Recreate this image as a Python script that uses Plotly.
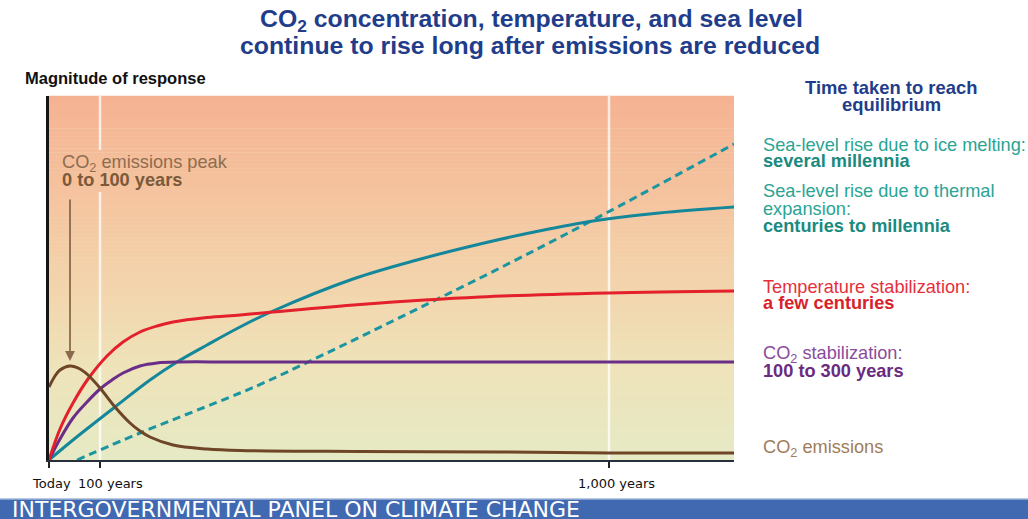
import plotly.graph_objects as go

# Schematic time axis: positions along the horizontal scale
x_ticks = [0, 51, 560]
x_tick_labels = ["Today", "100 years", "1,000 years"]

# CO2 emissions: peak then decline
emis_x = [0, 6, 11, 21, 31, 39, 51, 66, 81, 91, 101, 124, 158, 191, 311, 451, 560, 685]
emis_y = [73, 84, 90, 94, 91, 85, 72, 53, 37, 29, 23, 15, 11, 9.5, 8.5, 8, 7, 7]

# Temperature stabilization
temp_x = [0, 11, 24, 39, 58, 74, 91, 108, 124, 158, 191, 224, 311, 431, 560, 685]
temp_y = [0, 31, 57, 81, 104, 118, 128, 134, 138, 142.5, 145, 148, 155.5, 163, 167, 169]

# CO2 stabilization
co2_x = [0, 11, 24, 38, 51, 63, 74, 91, 108, 130, 191, 685]
co2_y = [0, 21, 42, 58, 71, 80, 87, 94, 97, 98, 98, 98]

# Sea-level rise due to thermal expansion
therm_x = [0, 24, 66, 101, 128, 158, 191, 224, 304, 368, 431, 490, 544, 610, 685]
therm_y = [0, 20, 53, 80, 98, 115, 133, 149, 181, 200, 216, 229, 239, 247, 253]

# Sea-level rise due to ice melting
ice_x = [28, 91, 191, 221, 431, 544, 685]
ice_y = [0, 27, 67, 80, 182, 240, 316]

W, H = 1028, 519
L, R, T, B = 49, 294, 96, 59
PW, PH = W - L - R, H - T - B


def px(x):
    return (x - L) / PW


def py(y):
    return (H - B - y) / PH


FONT = "Liberation Sans, Arial, sans-serif"
TICKFONT = "DejaVu Sans, Verdana, sans-serif"

fig = go.Figure()


def line(x, y, color, dash="solid"):
    fig.add_trace(go.Scatter(
        x=x, y=y, mode="lines", cliponaxis=False, hoverinfo="skip",
        line=dict(color=color, width=3, dash=dash, shape="spline", smoothing=1.0),
    ))


line(ice_x, ice_y, "#1b95a0", dash="8px,5px")
line(therm_x, therm_y, "#15879a")
line(co2_x, co2_y, "#6a2e88")
line(temp_x, temp_y, "#e3202b")
line(emis_x, emis_y, "#6e4526")

shapes = []

# vertical background gradient (salmon at top to pale green at bottom)
stops = [
    (0.0, (229, 234, 197)),
    (0.25, (238, 227, 186)),
    (0.5, (243, 211, 171)),
    (0.75, (245, 194, 158)),
    (1.0, (245, 178, 146)),
]


def grad(t):
    for (t0, c0), (t1, c1) in zip(stops[:-1], stops[1:]):
        if t0 <= t <= t1:
            f = (t - t0) / (t1 - t0)
            return "rgb(%d,%d,%d)" % tuple(round(a + (b - a) * f) for a, b in zip(c0, c1))
    return "rgb(%d,%d,%d)" % stops[-1][1]


N = 90
for i in range(N):
    shapes.append(dict(
        type="rect", xref="paper", yref="paper", layer="below",
        x0=0, x1=1, y0=i / N, y1=(i + 1.05) / N,
        fillcolor=grad((i + 0.5) / N), line=dict(width=0),
    ))

# faint white guides at 100 and 1,000 years
guide = dict(color="rgba(255,255,255,0.75)", width=2.5)
shapes.append(dict(type="line", xref="x", yref="paper", layer="below",
                   x0=x_ticks[1], x1=x_ticks[1], y0=py(150), y1=1, line=guide))
shapes.append(dict(type="line", xref="x", yref="paper", layer="below",
                   x0=x_ticks[1], x1=x_ticks[1], y0=0, y1=py(192), line=guide))
shapes.append(dict(type="line", xref="x", yref="paper", layer="below",
                   x0=x_ticks[2], x1=x_ticks[2], y0=0, y1=1, line=guide))

# footer banner
shapes.append(dict(type="rect", xref="paper", yref="paper", layer="above",
                   x0=px(0), x1=px(W), y0=py(H + 2), y1=py(499),
                   fillcolor="#4069b2", line=dict(width=0)))
shapes.append(dict(type="line", xref="paper", yref="paper", layer="above",
                   x0=px(0), x1=px(W), y0=py(499), y1=py(499),
                   line=dict(color="#9fb6d8", width=1.5)))

annotations = []


def label(text, x, y, size, color, bold=False, anchor="left", family=FONT):
    if bold:
        text = "<b>%s</b>" % text
    annotations.append(dict(
        text=text, x=px(x), y=py(y), xref="paper", yref="paper",
        xanchor=anchor, yanchor="middle", showarrow=False,
        font=dict(size=size, color=color, family=family),
    ))


BLUE = "#1f3d8a"
label("CO<sub>2</sub> concentration, temperature, and sea level", 531, 20, 24.8, BLUE, True, "center")
label("continue to rise long after emissions are reduced", 530, 45, 24.8, BLUE, True, "center")
label("Magnitude of response", 23, 78, 16.5, "#111111", True)

label("Time taken to reach", 891, 87, 18.4, BLUE, True, "center")
label("equilibrium", 891, 104, 18.4, BLUE, True, "center")

REG, BLD = 18.2, 18.2
label("Sea-level rise due to ice melting:", 761, 145, REG, "#2aa494")
label("several millennia", 761, 161, BLD, "#1b8a7f", True)
label("Sea-level rise due to thermal", 761, 191, REG, "#2aa494")
label("expansion:", 761, 209, REG, "#2aa494")
label("centuries to millennia", 761, 226, BLD, "#1b8a7f", True)
label("Temperature stabilization:", 761, 287, REG, "#e5303b")
label("a few centuries", 761, 303, BLD, "#d81f2b", True)
label("CO<sub>2</sub> stabilization:", 761, 354, REG, "#8a4c9c")
label("100 to 300 years", 761, 371, BLD, "#6b2b80", True)
label("CO<sub>2</sub> emissions", 761, 448, REG, "#a07d5a")

label("CO<sub>2</sub> emissions peak", 60, 163, REG, "#8d6d4f")
label("0 to 100 years", 60, 180, BLD, "#7a5a3a", True)

# time-axis labels, set slightly right of their ticks
tick_label_x = [51, 110, 616]
for txt, xl in zip(x_tick_labels, tick_label_x):
    label(txt, xl, 483, 13, "#111111", False, "center", TICKFONT)

label("INTERGOVERNMENTAL PANEL ON CLIMATE CHANGE", 10, 509, 22, "white",
      family=TICKFONT)

# arrow from the peak label down to the emissions maximum
annotations.append(dict(
    x=emis_x[3], y=emis_y[3] + 5, xref="x", yref="y", text="",
    showarrow=True, ax=0, ay=-163, arrowhead=2, arrowsize=1.1,
    arrowwidth=1.8, arrowcolor="#8a6a4c", standoff=0,
))

fig.update_layout(
    width=W, height=H,
    margin=dict(l=L, r=R, t=T, b=B, pad=0, autoexpand=False),
    paper_bgcolor="white", plot_bgcolor="rgb(238,227,186)",
    showlegend=False,
    shapes=shapes, annotations=annotations,
    xaxis=dict(
        range=[0, 685], showgrid=False, zeroline=False, automargin=False,
        showline=True, linecolor="#27303a", linewidth=2,
        ticks="outside", ticklen=6, tickwidth=2, tickcolor="#222222",
        tickvals=x_ticks, showticklabels=False,
    ),
    yaxis=dict(
        range=[0, 364], showgrid=False, zeroline=False, automargin=False,
        showline=True, linecolor="#151515", linewidth=2.5,
        showticklabels=False, ticks="",
    ),
)

fig.write_html("out.html")
